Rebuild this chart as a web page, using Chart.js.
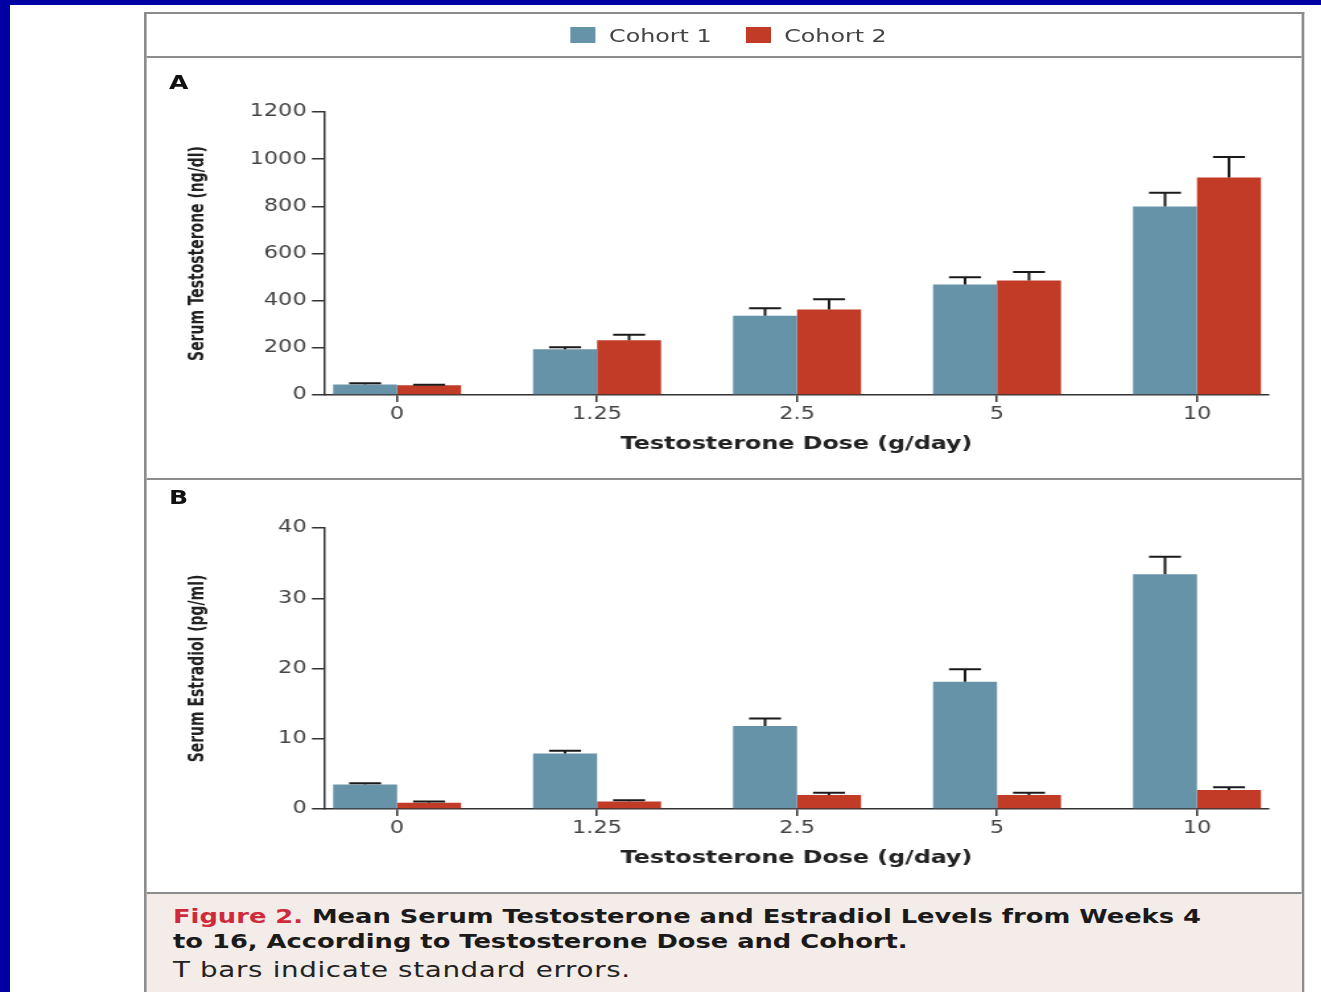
<!DOCTYPE html>
<html>
<head>
<meta charset="utf-8">
<script src="https://cdn.jsdelivr.net/npm/chart.js@4.4.1/dist/chart.umd.min.js"></script>
<style>
  body { margin: 0; width: 1321px; height: 992px; background: #0000a3; overflow: hidden; position: relative; font-family: "DejaVu Sans", sans-serif; }
  #page { position: absolute; left: 10px; top: 5px; right: 0; bottom: 0; background: #fff; }
  /* the original figure is stretched sideways, so the whole panel is too */
  #fig { position: absolute; left: 134px; top: 7px; width: 879px; height: 990px; border: 2px solid #8c8c8c; border-bottom: none; box-sizing: border-box; transform: scaleX(1.32); transform-origin: 0 0; }
  .rule { position: absolute; left: 0; right: 0; height: 2px; background: #8c8c8c; }
  #legend { position: absolute; left: 0; right: 0; top: 0; height: 42px; display: flex; align-items: center; justify-content: center; padding-left: 7px; box-sizing: border-box; font-size: 18px; color: #444; }
  .item { display: flex; align-items: center; margin: 0 13px; }
  .swatch { width: 19px; height: 16px; margin-right: 10px; }
  .panel { position: absolute; font-weight: bold; font-size: 19px; line-height: 19px; color: #111; left: 17px; }
  canvas { position: absolute; left: 0; }
  #caption { position: absolute; left: 0; right: 0; top: 880px; bottom: 0; background: #f3ece8; padding: 10px 0 0 20px; font-size: 19.5px; line-height: 25px; color: #1a1a1a; }
  #caption b { font-weight: bold; }
  #caption .fig { color: #cf2a3c; }
  #caption .note { margin-top: 4px; font-size: 21px; letter-spacing: 0.5px; color: #222; }
</style>
</head>
<body>
<div id="page">
  <div id="fig">
    <div id="legend"></div>
    <div class="rule" style="top:42px"></div>
    <div class="panel" style="top:59px">A</div>
    <canvas id="chartA" width="875" height="420" style="top:44px;width:875px;height:420px"></canvas>
    <div class="rule" style="top:464px"></div>
    <div class="panel" style="top:474px">B</div>
    <canvas id="chartB" width="875" height="412" style="top:466px;width:875px;height:412px"></canvas>
    <div class="rule" style="top:878px"></div>
    <div id="caption">
      <div><b><span class="fig">Figure 2.</span> Mean Serum Testosterone and Estradiol Levels from Weeks 4</b></div>
      <div><b>to 16, According to Testosterone Dose and Cohort.</b></div>
      <div class="note">T bars indicate standard errors.</div>
    </div>
  </div>
</div>
<script>
// 용량 (g/day)
const doseLabels = ["0", "1.25", "2.5", "5", "10"];
const cohortNames = ["Cohort 1", "Cohort 2"];
const cohortColors = ["#6693a8", "#c13b27"];

// A: testosterone (ng/dl), mean and standard error
const testoC1 = [44, 194, 336, 469, 799];
const testoC2 = [41, 232, 363, 485, 922];
const testoSeC1 = [6, 8, 32, 30, 59];
const testoSeC2 = [2, 24, 43, 37, 87];

// B: estradiol (pg/ml)
const estraC1 = [3.5, 7.9, 11.8, 18.1, 33.4];
const estraC2 = [0.9, 1.05, 2.0, 2.0, 2.7];
const estraSeC1 = [0.15, 0.4, 1.1, 1.8, 2.5];
const estraSeC2 = [0.15, 0.2, 0.3, 0.3, 0.4];

// legend
var legend = document.getElementById("legend");
cohortNames.forEach(function (name, i) {
  legend.innerHTML += '<div class="item"><div class="swatch" style="background:' + cohortColors[i] + '"></div>' + name + "</div>";
});

// T bars
var errorBars = {
  id: "errorBars",
  afterDatasetsDraw: function (chart) {
    var ctx = chart.ctx;
    var y = chart.scales.y;
    ctx.save();
    ctx.strokeStyle = "#1a1a1a";
    ctx.lineWidth = 2;
    chart.data.datasets.forEach(function (ds, i) {
      chart.getDatasetMeta(i).data.forEach(function (bar, j) {
        var top = y.getPixelForValue(ds.data[j].y + ds.se[j]);
        var half = bar.width / 4;
        ctx.beginPath();
        ctx.moveTo(bar.x, bar.y);
        ctx.lineTo(bar.x, top);
        ctx.moveTo(bar.x - half, top);
        ctx.lineTo(bar.x + half, top);
        ctx.stroke();
      });
    });
    ctx.restore();
  },
};

var tickFont = { family: "DejaVu Sans", size: 17 };

function makeChart(id, c1, c2, se1, se2, yMax, yStep, yTitle, topPad) {
  var ctx = document.getElementById(id).getContext("2d");
  return new Chart(ctx, {
    type: "bar",
    data: {
      datasets: [
        {
          label: cohortNames[0],
          data: c1.map(function (v, i) { return { x: i, y: v }; }),
          se: se1,
          backgroundColor: cohortColors[0],
        },
        {
          label: cohortNames[1],
          data: c2.map(function (v, i) { return { x: i, y: v }; }),
          se: se2,
          backgroundColor: cohortColors[1],
        },
      ],
    },
    options: {
      responsive: false,
      animation: false,
      devicePixelRatio: 1,
      layout: { padding: { left: 0, right: 25.5, top: topPad, bottom: 0 } },
      categoryPercentage: 0.64,
      barPercentage: 1.0,
      plugins: { legend: { display: false }, tooltip: { enabled: false } },
      scales: {
        x: {
          type: "linear",
          offset: false,
          min: -0.36,
          max: 4.355,
          afterBuildTicks: function (s) {
            s.ticks = doseLabels.map(function (d, i) { return { value: i }; });
          },
          afterFit: function (s) { s.height = 83; },
          ticks: {
            callback: function (v) { return doseLabels[v]; },
            font: tickFont,
            color: "#444",
            padding: 2,
            maxRotation: 0,
            autoSkip: false,
          },
          grid: { offset: false, drawOnChartArea: false, tickLength: 7, color: "#333", lineWidth: 1.5 },
          border: { color: "#333", width: 1.5 },
          title: {
            display: true,
            text: "Testosterone Dose (g/day)",
            font: { family: "DejaVu Sans", size: 18, weight: "bold" },
            color: "#222",
            padding: { top: 0, bottom: 23 },
          },
        },
        y: {
          min: 0,
          max: yMax,
          afterFit: function (s) { s.width = 135.2; },
          ticks: {
            stepSize: yStep,
            callback: function (v) { return String(v); },
            font: tickFont,
            color: "#444",
            padding: 4,
          },
          grid: { drawOnChartArea: false, tickLength: 10, color: "#333", lineWidth: 1.5 },
          border: { color: "#333", width: 1.5 },
          title: {
            display: true,
            text: yTitle,
            font: { family: "'DejaVu Sans Condensed', 'DejaVu Sans', sans-serif", size: 15.5, weight: "bold" },
            color: "#222",
            padding: { top: 29.6, bottom: 0 },
          },
        },
      },
    },
    plugins: [errorBars],
  });
}

makeChart("chartA", testoC1, testoC2, testoSeC1, testoSeC2, 1200, 200, "Serum Testosterone (ng/dl)", 54);
makeChart("chartB", estraC1, estraC2, estraSeC1, estraSeC2, 40, 10, "Serum Estradiol (pg/ml)", 48);
</script>
</body>
</html>
